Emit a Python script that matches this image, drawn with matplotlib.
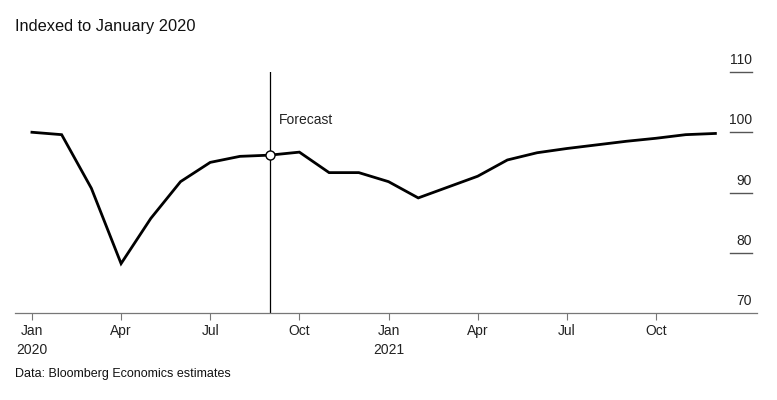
import numpy as np
import matplotlib.pyplot as plt
import matplotlib.transforms as mtransforms

plt.rcParams['font.family'] = ['Liberation Sans', 'DejaVu Sans']

# Monthly index, Jan 2020 = 100 (Jan 2020 .. Dec 2021)
values = [100.0, 99.6, 90.7, 78.2, 85.7, 91.8, 95.0, 96.0, 96.2, 96.7, 93.3, 93.3,
          91.8, 89.1, 90.9, 92.7, 95.4, 96.6, 97.3, 97.9, 98.5, 99.0, 99.6, 99.8]
months = np.arange(len(values))
forecast_start = 8  # Sep 2020
tick_pos = [0, 3, 6, 9, 12, 15, 18, 21]
tick_labels = ['Jan\n2020', 'Apr\n', 'Jul\n', 'Oct\n', 'Jan\n2021', 'Apr\n', 'Jul\n', 'Oct\n']
y_ticks = [70, 80, 90, 100, 110]

fig = plt.figure(figsize=(7.77, 4.0), dpi=100)
ax = fig.add_axes([15/777, 87/400, 742/777, 241/400])

ax.plot(months, values, color='black', lw=2.0, solid_joinstyle='miter', zorder=3)
ax.axvline(forecast_start, color='black', lw=0.9, zorder=2)
ax.plot([forecast_start], [values[forecast_start]], 'o', ms=6.5, mfc='white',
        mec='black', mew=1.0, zorder=4)
ax.text(forecast_start + 0.3, 102, 'Forecast', fontsize=10, color='#222222',
        va='center', ha='left')

ax.set_xlim(-0.57, 24.4)
ax.set_ylim(70, 110)

# y labels on the right, sitting above short rules
tr = mtransforms.blended_transform_factory(ax.transAxes, ax.transData)
for v in y_ticks:
    if v > 70:
        ax.plot([0.963, 0.993], [v, v], color='#555555', lw=1.0, transform=tr,
                clip_on=False)
    ax.text(0.993, v + 0.8, str(v), transform=tr, ha='right', va='bottom',
            fontsize=10, color='#222222')
ax.set_yticks([])

ax.set_xticks(tick_pos)
ax.set_xticklabels(tick_labels, fontsize=10, color='#222222', linespacing=1.45)
ax.tick_params(axis='x', length=5, width=0.8, color='#777777', pad=3)
for s in ['top', 'right', 'left']:
    ax.spines[s].set_visible(False)
ax.spines['bottom'].set_color('#777777')
ax.spines['bottom'].set_linewidth(0.9)

fig.text(15/777, 1 - 27/400, 'Indexed to January 2020', fontsize=11.8,
         color='#111111', va='center', ha='left')
fig.text(15/777, 1 - 374/400, 'Data: Bloomberg Economics estimates', fontsize=9,
         color='#111111', va='center', ha='left')

fig.savefig('out.png', dpi=100, facecolor='white')
